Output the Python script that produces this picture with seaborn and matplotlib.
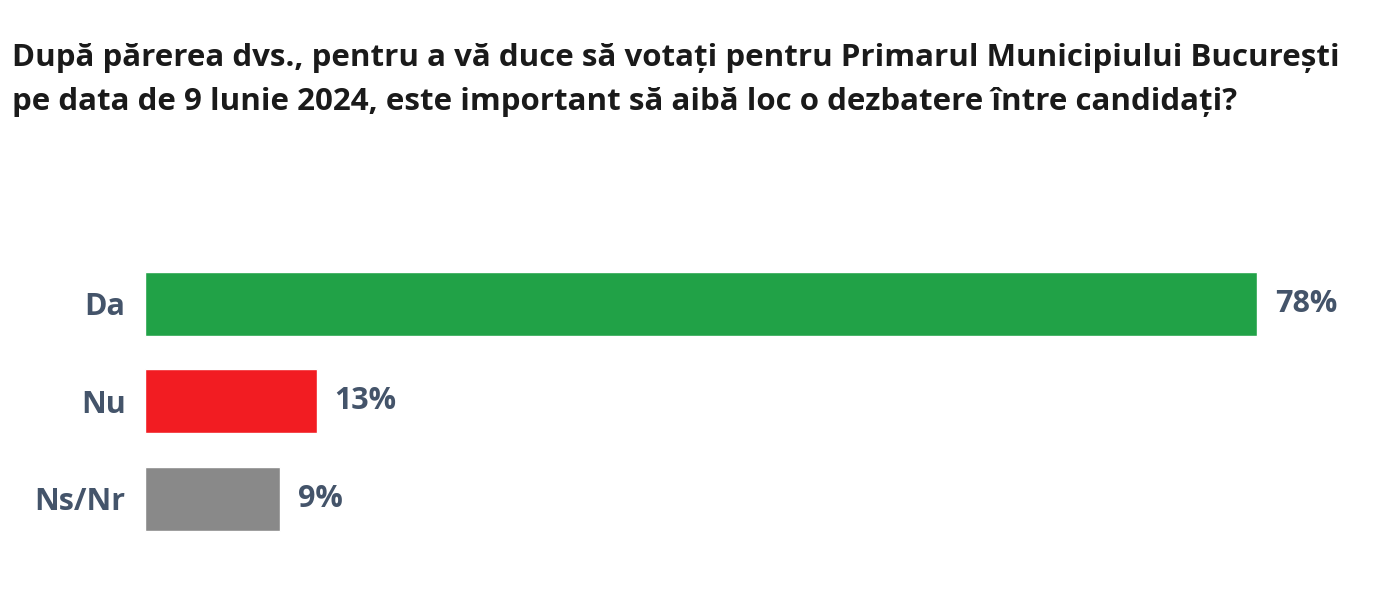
import matplotlib
matplotlib.use("Agg")
import matplotlib.pyplot as plt
import seaborn as sns
import pandas as pd

# -------------------------------
# Data
# -------------------------------

categories = ["Da", "Nu", "Ns/Nr"]
values = [78.4, 12.1, 9.5]          # bar lengths
value_labels = ["78%", "13%", "9%"]  # printed labels
colors = ["#21A247", "#F21C22", "#898989"]

title = ("După părerea dvs., pentru a vă duce să votați pentru Primarul Municipiului București\n"
         "pe data de 9 lunie 2024, este important să aibă loc o dezbatere între candidați?")

df = pd.DataFrame({"raspuns": categories, "procent": values})

# -------------------------------
# Plot
# -------------------------------

sns.set_theme(style="white")
plt.rcParams["font.family"] = ["Open Sans", "DejaVu Sans"]

TEXT_COLOR = "#44546A"

fig = plt.figure(figsize=(14, 6.08), dpi=100)
ax = fig.add_axes([145 / 1400, 0.0831, 1220 / 1400, 312 / 608])

sns.barplot(data=df, x="procent", y="raspuns", hue="raspuns",
            palette=colors, width=0.656, legend=False, ax=ax,
            saturation=1)

ax.set_xlim(0, 1220 / (1112 / 78.4))
ax.set_ylim(2.6, -0.6)

for cont, lab in zip(ax.containers, value_labels):
    ax.bar_label(cont, labels=[lab], padding=13, fontsize=22,
                 fontweight="bold", color=TEXT_COLOR)

ax.set_xlabel("")
ax.set_ylabel("")
ax.set_xticks([])
ax.tick_params(axis="y", length=0, pad=14)
for t in ax.get_yticklabels():
    t.set_fontsize(22)
    t.set_fontweight("bold")
    t.set_color(TEXT_COLOR)
sns.despine(ax=ax, left=True, bottom=True)

fig.text(12 / 1400, 1 - 43 / 608, title, fontsize=22.5, fontweight="bold",
         color="#1A1A1A", va="top", ha="left", linespacing=1.6)

fig.savefig("out.png", dpi=100)
plt.close(fig)
